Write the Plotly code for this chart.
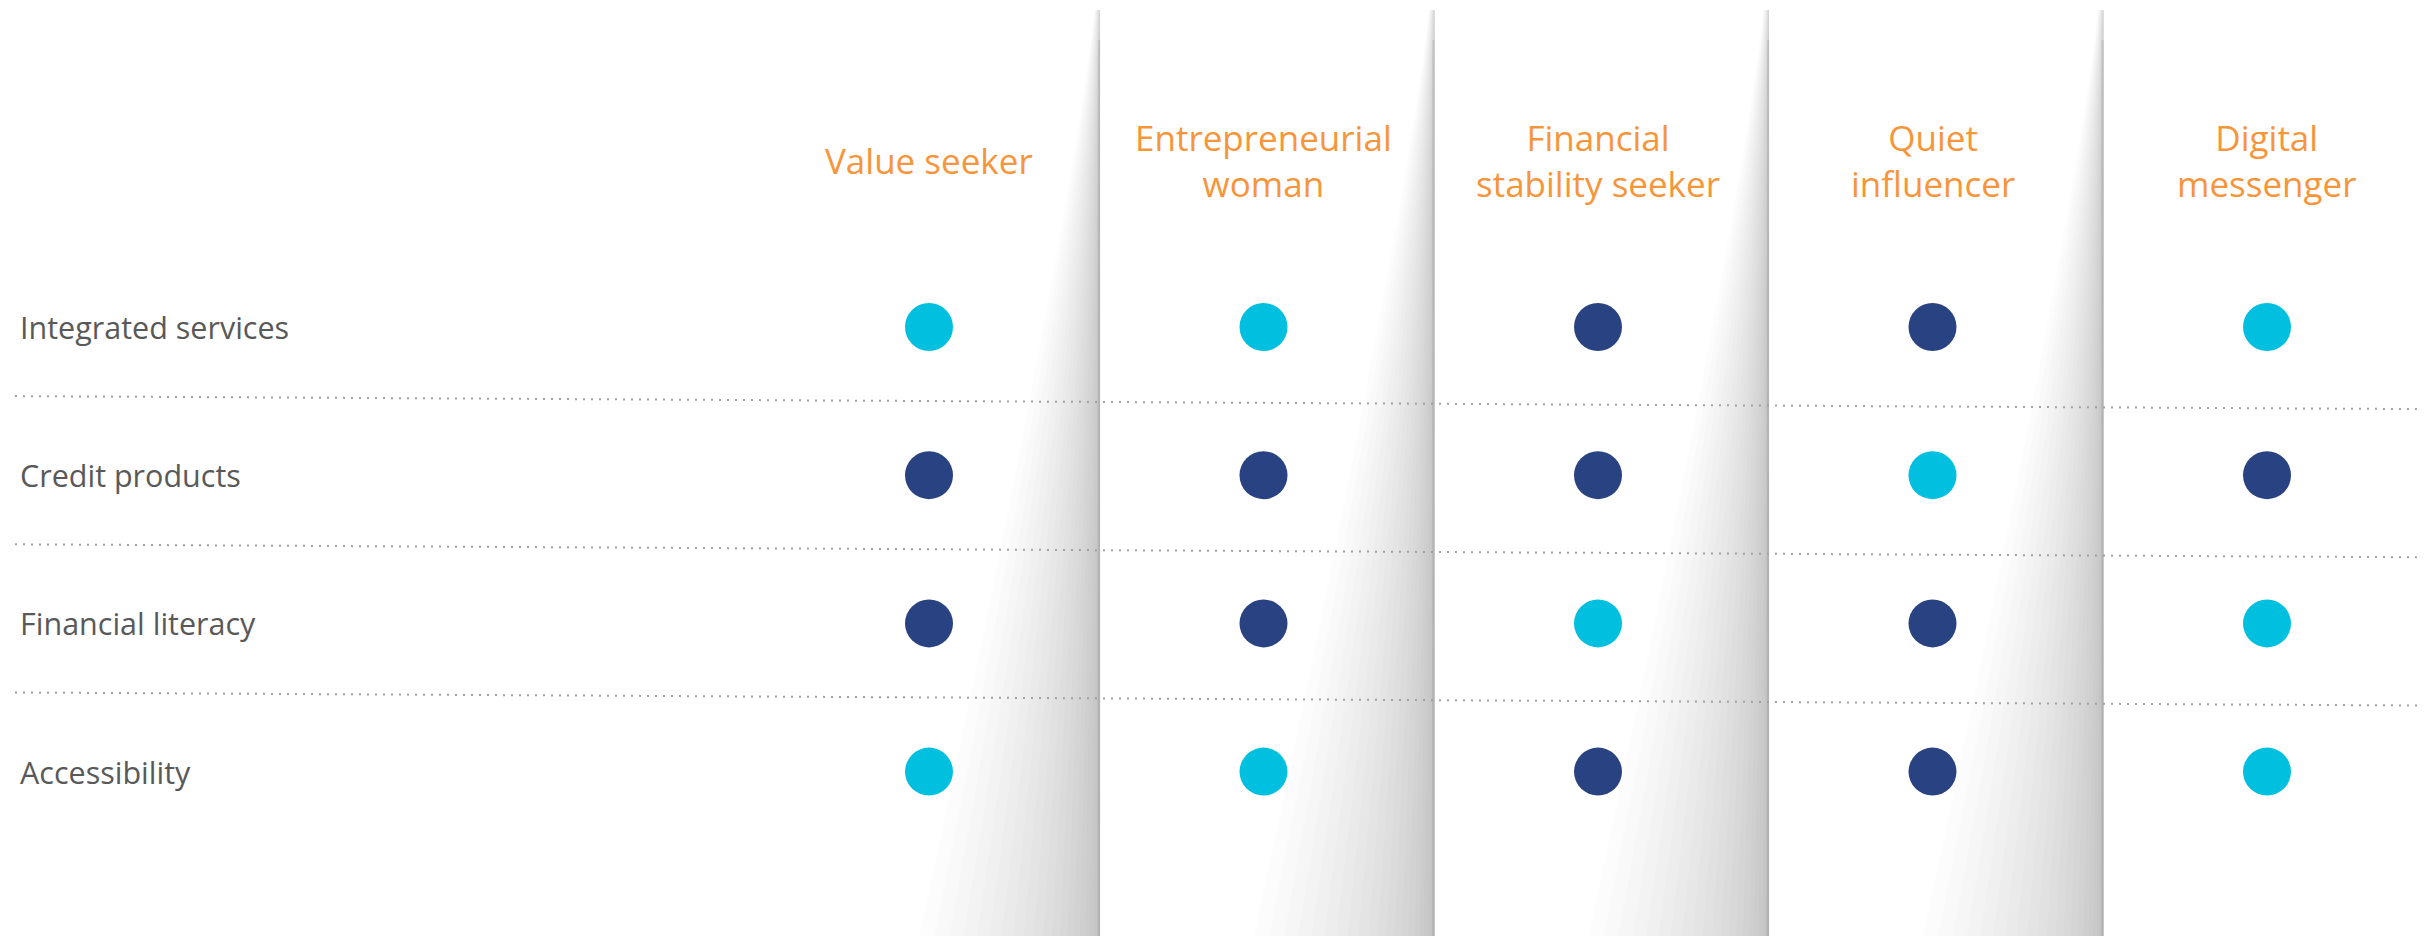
import plotly.graph_objects as go

# ---- data ----
segments = ["Value seeker", "Entrepreneurial<br>woman", "Financial<br>stability seeker",
            "Quiet<br>influencer", "Digital<br>messenger"]
needs = ["Integrated services", "Credit products", "Financial literacy", "Accessibility"]
# 1 = light (cyan), 2 = dark (navy)
levels = [
    [1, 1, 2, 2, 1],   # Integrated services
    [2, 2, 2, 1, 2],   # Credit products
    [2, 2, 1, 2, 1],   # Financial literacy
    [1, 1, 2, 2, 1],   # Accessibility
]
level_colors = {1: "#01BFDF", 2: "#294281"}

# ---- geometry (pixels, page offset of 8px body margin removed) ----
OFF = 8
W, H = 2428 - OFF, 936 - OFF
col0_px, col_step = 929 - OFF, 334.5
row0_px, row_step = 327 - OFF, 148.2

x_range = [-col0_px / col_step, (W - col0_px) / col_step]
y_range = [(H - row0_px) / row_step, -row0_px / row_step]   # reversed

def px_to_x(px):
    return x_range[0] + (px - OFF) / col_step

def py_to_y(py):
    return y_range[1] + (py - OFF) / row_step

fig = go.Figure()

for lv, col in level_colors.items():
    xs, ys = [], []
    for r, row in enumerate(levels):
        for c, v in enumerate(row):
            if v == lv:
                xs.append(c)
                ys.append(r)
    fig.add_trace(go.Scatter(
        x=xs, y=ys, mode="markers",
        marker=dict(size=48, color=col, line=dict(width=0)),
        hoverinfo="skip", showlegend=False))

shapes = []
# ---- column separators with page-fold shadows ----
K = 22
alpha = 0.0105
TOP, BOT = 10, 936
SEP_SHIFT = 4 / col_step
for c in range(len(segments) - 1):
    s = c + 0.5 + SEP_SHIFT
    ys_px = list(range(TOP, BOT + 1, 24))
    if ys_px[-1] != BOT:
        ys_px.append(BOT)
    for k in range(1, K + 1):
        f = (k / K) ** 1.9
        pts = []
        for yp in ys_px:
            t = (yp - TOP) / (BOT - TOP)
            wpx = 6 + 175 * t ** 1.15
            pts.append((s - f * wpx / col_step, py_to_y(yp)))
        path = (f"M {s},{py_to_y(TOP)} " + " ".join(f"L {x:.5f},{y:.5f}" for x, y in pts)
                + f" L {s},{py_to_y(BOT)} Z")
        shapes.append(dict(type="path", path=path, xref="x", yref="y",
                           fillcolor=f"rgba(0,0,0,{alpha})", line=dict(width=0), layer="below"))
    shapes.append(dict(type="line", xref="x", yref="y", x0=s - 1.2 / col_step, x1=s - 1.2 / col_step,
                       y0=py_to_y(40), y1=py_to_y(BOT),
                       line=dict(color="rgba(0,0,0,0.08)", width=2.5), layer="below"))

# ---- dotted row dividers (slightly tilted) ----
for r in range(len(needs) - 1):
    ym = r + 0.5
    shapes.append(dict(type="line", xref="x", yref="y",
                       x0=px_to_x(15), x1=px_to_x(2420),
                       y0=ym - 5 / row_step, y1=ym + 8 / row_step,
                       line=dict(color="#A0A0A0", width=2, dash="2px,6px"), layer="below"))

annotations = []
for c, name in enumerate(segments):
    annotations.append(dict(x=c, y=py_to_y(160), xref="x", yref="y", text=name,
                            showarrow=False, xanchor="center", yanchor="middle",
                            font=dict(family="Open Sans", size=35, color="#F7953B")))
for r, name in enumerate(needs):
    annotations.append(dict(x=px_to_x(18), y=r, xref="x", yref="y", text=name,
                            showarrow=False, xanchor="left", yanchor="middle",
                            font=dict(family="Open Sans", size=30.5, color="#595959")))

fig.update_layout(
    width=W, height=H,
    margin=dict(l=0, r=0, t=0, b=0),
    paper_bgcolor="white", plot_bgcolor="white",
    xaxis=dict(range=x_range, visible=False, fixedrange=True),
    yaxis=dict(range=y_range, visible=False, fixedrange=True),
    shapes=shapes, annotations=annotations,
)

fig.write_html("out.html")
